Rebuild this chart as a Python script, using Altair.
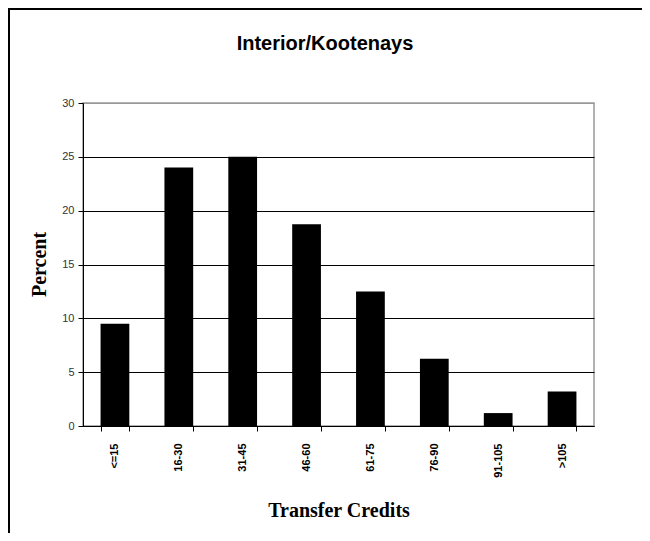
import altair as alt
import pandas as pd

title_text = "Interior/Kootenays"
categories = ["<=15", "16-30", "31-45", "46-60", "61-75", "76-90", "91-105", ">105"]
percent = [9.5, 24.0, 25.0, 18.75, 12.5, 6.25, 1.2, 3.2]
y_ticks = [0, 5, 10, 15, 20, 25, 30]

df = pd.DataFrame({"credits": categories, "percent": percent})

bars = alt.Chart(df).mark_bar(color="black").encode(
    x=alt.X(
        "credits:N",
        sort=categories,
        title="Transfer Credits",
        scale=alt.Scale(paddingInner=0.55, paddingOuter=0.275),
        axis=alt.Axis(
            labelAngle=270,
            tickBand="extent",
            labelFont="Liberation Sans",
            labelFontSize=11,
            labelFontWeight="bold",
            labelColor="black",
            labelPadding=12,
            tickColor="black",
            tickSize=5,
            domainColor="black",
            titleFont="Liberation Serif",
            titleFontSize=20,
            titleFontWeight="bold",
            titleColor="black",
            titleBaseline="alphabetic",
            titleY=90,
        ),
    ),
    y=alt.Y(
        "percent:Q",
        title="Percent",
        scale=alt.Scale(domain=[0, 30], nice=False),
        axis=alt.Axis(
            values=y_ticks,
            grid=True,
            gridColor=alt.condition(alt.datum.value == 30, alt.value("#999999"), alt.value("black")),
            gridOpacity=1,
            labelFont="Liberation Sans",
            labelFontSize=11,
            labelColor="#333333",
            labelPadding=4,
            tickColor="black",
            tickSize=5,
            domainColor="black",
            titleFont="Liberation Serif",
            titleFontSize=20,
            titleFontWeight="bold",
            titleColor="black",
            titleAngle=270,
            titleAlign="center",
            titleBaseline="middle",
            titleX=-44,
            titleY=161,
        ),
    ),
)

single = pd.DataFrame({"t": [title_text]})
frame = alt.Chart(single).mark_rule(color="black", strokeWidth=2)
top_line = frame.encode(x=alt.value(-80), x2=alt.value(560), y=alt.value(-94))
left_line = frame.encode(x=alt.value(-74), y=alt.value(-94), y2=alt.value(450))

title = alt.Chart(single).mark_text(
    font="Liberation Sans",
    fontSize=20,
    fontWeight="bold",
    color="black",
    align="center",
    baseline="alphabetic",
).encode(x=alt.value(242), y=alt.value(-53), text="t:N")

chart = alt.layer(bars, top_line, left_line, title).properties(
    width=511,
    height=323,
    autosize=alt.AutoSizeParams(type="none"),
    padding={"left": 75, "top": 95, "right": 48, "bottom": 107},
).configure_view(stroke="#999999", strokeWidth=1.5)

chart.save("out.html", embed_options={"renderer": "svg", "actions": False})
